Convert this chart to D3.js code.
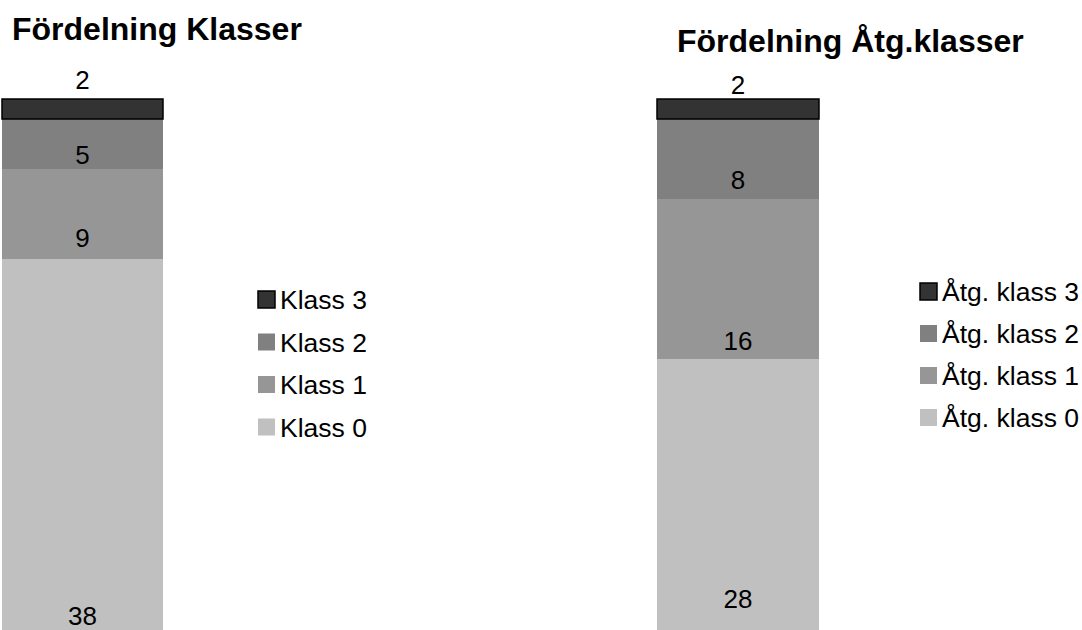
<!DOCTYPE html>
<html><head><meta charset="utf-8">
<script src="https://cdn.jsdelivr.net/npm/d3@7"></script>
<style>html,body{margin:0;padding:0;background:#fff;}svg{display:block;font-family:"Liberation Sans",Arial,sans-serif;}</style>
</head><body>
<svg id="c" width="1082" height="630"></svg>
<script>
// Data
const leftTitle = "Fördelning Klasser";
const leftCategories = ["Klass 0", "Klass 1", "Klass 2", "Klass 3"];
const leftValues = [38, 9, 5, 2];
const rightTitle = "Fördelning Åtg.klasser";
const rightCategories = ["Åtg. klass 0", "Åtg. klass 1", "Åtg. klass 2", "Åtg. klass 3"];
const rightValues = [28, 16, 8, 2];
const colors = ["#c0c0c0", "#969696", "#808080", "#333333"];

// Layout (not data)
const charts = [
  {title: leftTitle, cats: leftCategories, vals: leftValues,
   titleX: 12, titleY: 40, barX: 2, barW: 161,
   labelDy: [14, 12, 5, 10],   // px above segment bottom (last: above bar top)
   legX: 258, legY: 291, legStep: 42.5},
  {title: rightTitle, cats: rightCategories, vals: rightValues,
   titleX: 677, titleY: 52, barX: 657, barW: 162,
   labelDy: [31, 9, 10, 5],
   legX: 920, legY: 283, legStep: 42}
];

const svg = d3.select("#c");
svg.append("rect").attr("width", 1082).attr("height", 630).attr("fill", "#fff");

charts.forEach(ch => {
  const total = d3.sum(ch.vals);
  const y = d3.scaleLinear().domain([0, total]).range([639, 99]);
  const stackData = [Object.fromEntries(ch.cats.map((c, i) => [c, ch.vals[i]]))];
  const series = d3.stack().keys(ch.cats)(stackData);
  const g = svg.append("g");

  g.append("text").attr("x", ch.titleX).attr("y", ch.titleY)
    .attr("font-size", 32).attr("font-weight", "bold").attr("fill", "#000")
    .text(ch.title);

  series.forEach((s, i) => {
    const d = s[0];
    const top = i === series.length - 1;
    g.append("rect")
      .attr("x", ch.barX).attr("width", ch.barW)
      .attr("y", y(d[1])).attr("height", y(d[0]) - y(d[1]))
      .attr("fill", colors[i])
      .attr("stroke", top ? "#000" : "none")
      .attr("stroke-width", top ? 1.5 : 0);
  });
  series.forEach((s, i) => {
    const d = s[0];
    const top = i === series.length - 1;
    const base = top ? y(d[1]) : y(d[0]);
    g.append("text")
      .attr("x", ch.barX + ch.barW / 2)
      .attr("y", base - ch.labelDy[i])
      .attr("text-anchor", "middle").attr("font-size", 26).attr("fill", "#000")
      .text(d[1] - d[0]);
  });

  // Legend (reverse order: top series first)
  const legendItems = ch.cats.map((c, i) => ({c, i})).reverse();
  legendItems.forEach((it, k) => {
    const yy = ch.legY + k * ch.legStep;
    const top = it.i === ch.cats.length - 1;
    g.append("rect").attr("x", ch.legX).attr("y", yy)
      .attr("width", 17).attr("height", 17)
      .attr("fill", colors[it.i])
      .attr("stroke", top ? "#000" : "none").attr("stroke-width", top ? 1.5 : 0);
    g.append("text").attr("x", ch.legX + 22).attr("y", yy + 18)
      .attr("font-size", 26.5).attr("fill", "#000").text(it.c);
  });
});
</script>
</body></html>
